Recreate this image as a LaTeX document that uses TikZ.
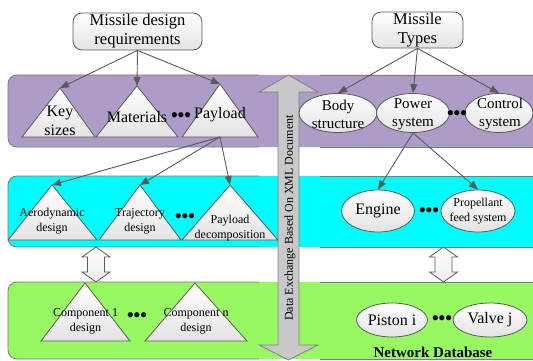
\documentclass[tikz,border=0pt]{standalone}
\usepackage{fontspec}
\setmainfont{Liberation Serif}
\newfontfamily\timesfont{Liberation Serif}
\usetikzlibrary{arrows.meta,shapes.geometric}

\definecolor{bandpurple}{HTML}{AD9BC8}
\definecolor{bandcyan}{HTML}{00FCFC}
\definecolor{bandgreen}{HTML}{98F862}
\definecolor{edgegray}{HTML}{5A5A5A}
\definecolor{arrowgray}{HTML}{C8C8C8}

\tikzset{
  box/.style={draw=edgegray, line width=0.8pt, rounded corners=9pt,
    top color=white, bottom color=gray!22, align=center, inner sep=0pt,
    font=\timesfont\fontsize{16.5}{19}\selectfont},
  oval/.style={ellipse, draw=edgegray, line width=0.8pt, top color=white,
    bottom color=gray!22, inner sep=0pt},
  trifill/.style={draw=edgegray, line width=0.8pt, top color=white,
    bottom color=gray!22, line join=miter},
  lbl/.style={align=center, inner sep=0pt},
  bigtxt/.style={lbl, font=\timesfont\fontsize{16}{18.5}\selectfont},
  midtxt/.style={lbl, font=\timesfont\fontsize{15}{18}\selectfont},
  smalltxt/.style={lbl, font=\timesfont\fontsize{12}{15}\selectfont},
  link/.style={draw=edgegray, line width=0.9pt, -{Triangle[length=9pt,width=7pt]}},
  dotrow/.style={inner sep=0pt, font=\timesfont\fontsize{19}{19}\selectfont\bfseries},
  bandedge/.style={draw=edgegray!80, line width=0.8pt},
  hollow/.style={draw=edgegray, line width=0.8pt, top color=white, bottom color=gray!15},
}

% triangle: name, apex x, apex y, base left x, base right x, base y
\newcommand\trishape[6]{%
  \path[trifill] (#2,#3) -- (#5,#6) -- (#4,#6) -- cycle;
  \coordinate (#1-top) at (#2,#3);
  \coordinate (#1-base) at ({(#4+#5)/2},#6);
}
% horizontal band: top y, bottom y, fill colour
\newcommand\band[3]{%
  \fill[#3, rounded corners=9pt] (8,#1) rectangle (560,#2);
  \draw[bandedge, rounded corners=9pt] (259,#1) -- (8,#1) -- (8,#2) -- (259,#2);
  \draw[bandedge] (320,#1) -- (545,#1) (320,#2) -- (545,#2);
}
% hollow two-headed arrow centred at x, between y1 and y2
\newcommand\hollowarrow[3]{%
  \path[hollow] (#1,#2) -- (#1+14,#2+10) -- (#1+8.5,#2+10) -- (#1+8.5,#3-10)
    -- (#1+14,#3-10) -- (#1,#3) -- (#1-14,#3-10) -- (#1-8.5,#3-10)
    -- (#1-8.5,#2+10) -- (#1-14,#2+10) -- cycle;
}

\begin{document}
\begin{tikzpicture}[x=1pt, y=-1pt]
\useasboundingbox (0,0) rectangle (533,361);
\clip (0,0) rectangle (533,361);

% the three layers
\band{75}{147}{bandpurple}
\band{176}{247}{bandcyan}
\band{282}{359}{bandgreen}

% layer-to-layer exchange arrows
\hollowarrow{96}{247}{282}
\hollowarrow{443.5}{247}{282}

% XML data exchange arrow across all layers
\path[draw=gray, line width=0.8pt, fill=arrowgray]
  (288.5,75) -- (318,92) -- (299,92) -- (299,345) -- (318,345) -- (288.5,360)
  -- (259,345) -- (278,345) -- (278,92) -- (259,92) -- cycle;
\node[rotate=90, inner sep=0pt, font=\timesfont\fontsize{12}{12}\selectfont] (xml) at (290,218)
  {Data Exchange Based On XML Document};

% top-level sources
\node[box, minimum width=129pt, minimum height=37pt] (req) at (137.5,31.5)
  {Missile design\\requirements};
\node[box, minimum width=91pt, minimum height=36pt] (types) at (417.5,30)
  {Missile\\Types};

% design layer
\trishape{ks}{60}{88}{22}{95}{137}
\trishape{mat}{137}{86}{96}{178}{137}
\trishape{pay}{220}{84}{182}{258}{137}
\node[bigtxt] (ks-txt) at (60,121) {Key\\sizes};
\node[bigtxt] (mat-txt) at (137,117) {Materials};
\node[bigtxt] (pay-txt) at (220,115) {Payload};
\node[dotrow] (dots1) at (181,117) {•••};

\node[oval, minimum width=78pt, minimum height=39pt] (body) at (338,113) {};
\node[oval, minimum width=73pt, minimum height=39pt] (power) at (413,113) {};
\node[oval, minimum width=68pt, minimum height=39pt] (control) at (499,113) {};
\node[midtxt] (body-txt) at (338,114) {Body\\structure};
\node[midtxt] (power-txt) at (413,114) {Power\\system};
\node[midtxt] (control-txt) at (500,114) {Control\\system};
\node[dotrow] (dots2) at (457,115) {•••};

% decomposition layer
\trishape{aero}{52}{185}{8}{97}{240}
\trishape{traj}{140}{185}{99}{181}{240}
\trishape{pd}{230}{185}{182}{278}{240}
\node[smalltxt] (aero-txt) at (52,221) {Aerodynamic\\design};
\node[smalltxt] (traj-txt) at (140,221) {Trajectory\\design};
\node[smalltxt] (pd-txt) at (230,228) {Payload\\decomposition};
\node[dotrow] (dots3) at (185,218) {•••};

\node[oval, minimum width=73pt, minimum height=42pt] (engine) at (378,211) {};
\node[oval, minimum width=74pt, minimum height=42pt] (prop) at (478,211) {};
\node[bigtxt] (engine-txt) at (378,211) {Engine};
\node[smalltxt] (prop-txt) at (478,211) {Propellant\\feed system};
\node[dotrow] (dots4) at (429,212) {•••};

% component layer
\trishape{c1}{85}{283}{41}{130}{341}
\trishape{cn}{195}{283}{145}{247}{341}
\node[smalltxt] (c1-txt) at (85.5,321) {Component 1\\design};
\node[smalltxt] (cn-txt) at (196,321) {Component n\\design};
\node[dotrow] (dots5) at (137,317) {•••};

\node[oval, minimum width=71pt, minimum height=34pt] (piston) at (392,320) {};
\node[oval, minimum width=74pt, minimum height=34pt] (valve) at (490,320) {};
\node[bigtxt] (piston-txt) at (392,320) {Piston i};
\node[bigtxt] (valve-txt) at (490,320) {Valve j};
\node[dotrow] (dots6) at (442,320) {•••};
\node[lbl, font=\timesfont\fontsize{15}{15}\selectfont\bfseries] (netdb) at (433,352) {Network Database};

% decomposition links
\draw[link] (req.south) -- (ks-top);
\draw[link] (req.south) -- (mat-top);
\draw[link] (req.south) -- (pay-top);
\draw[link] (types.south) -- (body.north);
\draw[link] (types.south) -- (power.north);
\draw[link] (types.south) -- (control.north);
\draw[link] (pay-base) -- (aero-top);
\draw[link] (pay-base) -- (traj-top);
\draw[link] (pay-base) -- (pd-top);
\draw[link] (power.south) -- (engine.north);
\draw[link] (power.south) -- (prop.north);
\end{tikzpicture}
\end{document}
